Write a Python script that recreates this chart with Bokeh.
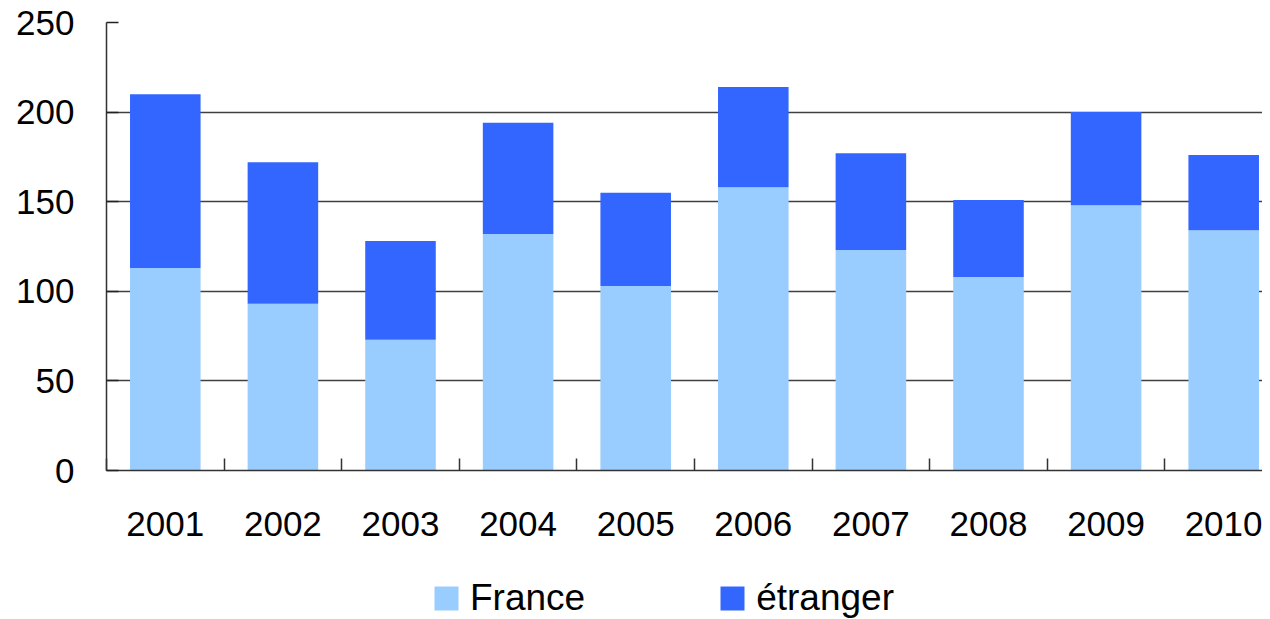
from bokeh.plotting import figure
from bokeh.models import Range1d, FixedTicker, Legend, ColumnDataSource
from bokeh.layouts import column
from bokeh.embed import file_html
from bokeh.resources import INLINE

years = ["2001", "2002", "2003", "2004", "2005", "2006", "2007", "2008", "2009", "2010"]
france = [113, 93, 73, 132, 103, 158, 123, 108, 148, 134]
etranger = [97, 79, 55, 62, 52, 56, 54, 43, 52, 42]
y_ticks = [0, 50, 100, 150, 200, 250]
series_names = ["France", "étranger"]
colors = ["#99CCFF", "#3366FF"]

FONT = "Liberation Sans"

src = ColumnDataSource(dict(x=list(range(len(years))), france=france, etranger=etranger))

p = figure(width=1262, height=560, output_backend="svg", toolbar_location=None,
           x_range=Range1d(-0.5, 9.33), y_range=Range1d(0, 250),
           min_border_left=106, min_border_right=0, min_border_top=22, min_border_bottom=90)

rs = p.vbar_stack(["france", "etranger"], x="x", width=0.6, source=src,
                  color=colors, line_color=None)

p.outline_line_color = None
p.background_fill_color = "white"

# y axis
p.yaxis.ticker = FixedTicker(ticks=y_ticks)
p.yaxis.axis_line_color = "#333333"
p.yaxis.axis_line_width = 1.5
p.yaxis.major_tick_in = 12
p.yaxis.major_tick_out = 0
p.yaxis.major_tick_line_color = "#222222"
p.yaxis.major_tick_line_width = 1.5
p.yaxis.minor_tick_line_color = None
p.yaxis.major_label_text_font = FONT
p.yaxis.major_label_text_font_size = "35px"
p.yaxis.major_label_text_color = "black"
p.yaxis.major_label_standoff = 32

# x axis
p.xaxis.ticker = FixedTicker(ticks=list(range(len(years))),
                             minor_ticks=[i - 0.5 for i in range(len(years) + 1)])
p.xaxis.major_label_overrides = {i: y for i, y in enumerate(years)}
p.xaxis.axis_line_color = "#333333"
p.xaxis.axis_line_width = 1.5
p.xaxis.major_tick_line_color = None
p.xaxis.minor_tick_in = 12
p.xaxis.minor_tick_out = 0
p.xaxis.minor_tick_line_color = "#333333"
p.xaxis.minor_tick_line_width = 1.5
p.xaxis.major_label_text_font = FONT
p.xaxis.major_label_text_font_size = "35px"
p.xaxis.major_label_text_color = "black"
p.xaxis.major_label_standoff = 35

p.xgrid.grid_line_color = None
p.ygrid.ticker = FixedTicker(ticks=y_ticks)
p.ygrid.grid_line_color = "#404040"
p.ygrid.grid_line_width = 1.5

# legend strip below the chart (its frame is aligned with the chart's frame)
lg = figure(width=1262, height=59, output_backend="svg", toolbar_location=None,
            x_range=Range1d(0, 1), y_range=Range1d(0, 1), min_border=0)
lg.axis.visible = False
lg.grid.grid_line_color = None
lg.outline_line_color = None
proxy = ColumnDataSource(dict(x=[-10], top=[-10]))
items = []
for name, c in zip(series_names, colors):
    r = lg.vbar(x="x", top="top", width=0.1, source=proxy, color=c, line_color=None)
    items.append((name, [r]))

legend = Legend(items=items, orientation="horizontal", location=(325, 0),
                glyph_width=30, glyph_height=30, label_standoff=9, spacing=132,
                label_text_font=FONT, label_text_font_size="37px",
                label_text_color="black", border_line_color=None,
                background_fill_alpha=0, padding=0, margin=0)
lg.add_layout(legend, "center")

layout = column(p, lg, spacing=0)
open("out.html", "w").write(file_html(layout, INLINE))
